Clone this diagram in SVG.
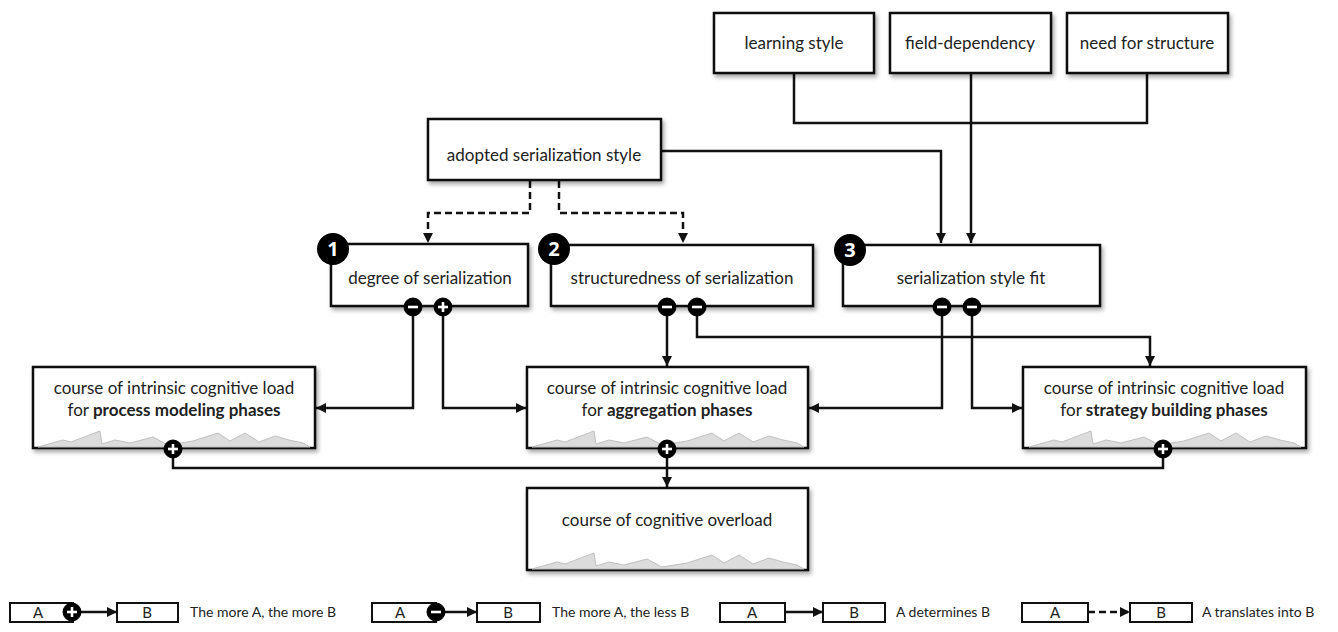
<svg xmlns="http://www.w3.org/2000/svg" xmlns:xlink="http://www.w3.org/1999/xlink" width="1338" height="632" viewBox="0 0 1338 632">
<style>
.box{fill:#fff;stroke:#111;stroke-width:2.5;filter:url(#sh)}
.t{font-family:Lato,"Open Sans","Liberation Sans",sans-serif;font-size:17px;fill:#222;text-anchor:middle}
.b{font-weight:bold}
.ln{fill:none;stroke:#111;stroke-width:2.5}
.ds{stroke-dasharray:7,4}
.num{fill:#000}
.nt{font-family:"Open Sans","Liberation Sans",sans-serif;font-size:20px;font-weight:bold;fill:#fff;text-anchor:middle}
.pm{fill:#000;stroke:#000;stroke-width:1}
.sg{stroke:#fff;stroke-width:2.6;fill:none}
.spark{fill:#dcdcdc;stroke:#c0c0c0;stroke-width:1}
.lg{font-family:Lato,"Open Sans","Liberation Sans",sans-serif;font-size:14px;fill:#222}
.lgb{fill:#fff;stroke:#111;stroke-width:2}
.lgt{font-family:Lato,"Open Sans","Liberation Sans",sans-serif;font-size:15px;fill:#222;text-anchor:middle}
</style>
<defs>
<filter id="sh" x="-10%" y="-20%" width="130%" height="160%">
<feDropShadow dx="2" dy="3" stdDeviation="2" flood-color="#000" flood-opacity="0.35"/>
</filter>
<marker id="ar" viewBox="0 0 10 10" refX="10" refY="5" markerWidth="10" markerHeight="10" markerUnits="userSpaceOnUse" orient="auto">
<path d="M0,0 L10,5 L0,10 z" fill="#111"/>
</marker>
<polygon id="spk" class="spark" points="5,80 30,73 38,75 67,64 69,77 82,73 97,76 120,70 135,78 160,74 185,66 197,74 212,66 226,75 242,69 256,73 270,76 277,80"/>
</defs>

<g id="connectors">
<polyline class="ln" points="794,73 794,123 1147,123 1147,73"/>
<polyline class="ln" points="971,73 971,243" marker-end="url(#ar)"/>
<polyline class="ln" points="661,151 941,151 941,243" marker-end="url(#ar)"/>
<polyline class="ln ds" points="530,181 530,213 428,213 428,243" marker-end="url(#ar)"/>
<polyline class="ln ds" points="559,181 559,213 683,213 683,243" marker-end="url(#ar)"/>
<polyline class="ln" points="413,306 413,408 316,408" marker-end="url(#ar)"/>
<polyline class="ln" points="443,306 443,408 526,408" marker-end="url(#ar)"/>
<polyline class="ln" points="667,307 667,366" marker-end="url(#ar)"/>
<polyline class="ln" points="697,307 697,337 1150,337 1150,366" marker-end="url(#ar)"/>
<polyline class="ln" points="942,306 942,408 809,408" marker-end="url(#ar)"/>
<polyline class="ln" points="972,306 972,408 1022,408" marker-end="url(#ar)"/>
<polyline class="ln" points="173,449 173,468 1163,468 1163,449"/>
<polyline class="ln" points="667,449 667,487" marker-end="url(#ar)"/>
</g>

<g id="learning-style">
<rect class="box" x="714" y="13" width="160" height="60"/>
<text class="t" x="794" y="49">learning style</text>
</g>
<g id="field-dependency">
<rect class="box" x="890" y="13" width="161" height="60"/>
<text class="t" x="970" y="49">field-dependency</text>
</g>
<g id="need-for-structure">
<rect class="box" x="1067" y="13" width="161" height="60"/>
<text class="t" x="1147" y="49">need for structure</text>
</g>
<g id="adopted-serialization-style">
<rect class="box" x="428" y="119" width="233" height="61"/>
<text class="t" x="544" y="161">adopted serialization style</text>
</g>

<g id="degree-of-serialization">
<rect class="box" x="331" y="244" width="197" height="62"/>
<text class="t" x="430" y="284">degree of serialization</text>
<circle class="num" cx="333" cy="249" r="16"/>
<text class="nt" x="333" y="256">1</text>
<circle class="pm" cx="413" cy="307" r="9"/>
<line class="sg" x1="408" y1="307" x2="418" y2="307"/>
<circle class="pm" cx="443" cy="307" r="9"/>
<line class="sg" x1="438" y1="307" x2="448" y2="307"/>
<line class="sg" x1="443" y1="302" x2="443" y2="312"/>
</g>

<g id="structuredness-of-serialization">
<rect class="box" x="551" y="245" width="262" height="61"/>
<text class="t" x="682" y="284">structuredness of serialization</text>
<circle class="num" cx="554" cy="249" r="16"/>
<text class="nt" x="554" y="256">2</text>
<circle class="pm" cx="667" cy="307" r="9"/>
<line class="sg" x1="662" y1="307" x2="672" y2="307"/>
<circle class="pm" cx="697" cy="307" r="9"/>
<line class="sg" x1="692" y1="307" x2="702" y2="307"/>
</g>

<g id="serialization-style-fit">
<rect class="box" x="843" y="245" width="257" height="61"/>
<text class="t" x="971" y="284">serialization style fit</text>
<circle class="num" cx="850" cy="250" r="16"/>
<text class="nt" x="850" y="257">3</text>
<circle class="pm" cx="942" cy="307" r="9"/>
<line class="sg" x1="937" y1="307" x2="947" y2="307"/>
<circle class="pm" cx="972" cy="307" r="9"/>
<line class="sg" x1="967" y1="307" x2="977" y2="307"/>
</g>

<g id="process-modeling-load">
<rect class="box" x="33" y="367" width="282" height="81"/>
<use href="#spk" x="33" y="367"/>
<text class="t" x="174" y="394">course of intrinsic cognitive load</text>
<text class="t" x="174" y="416">for <tspan class="b">process modeling phases</tspan></text>
<circle class="pm" cx="173" cy="449" r="9"/>
<line class="sg" x1="168" y1="449" x2="178" y2="449"/>
<line class="sg" x1="173" y1="444" x2="173" y2="454"/>
</g>

<g id="aggregation-load">
<rect class="box" x="527" y="367" width="281" height="81"/>
<use href="#spk" x="527" y="367"/>
<text class="t" x="667" y="394">course of intrinsic cognitive load</text>
<text class="t" x="667" y="416">for <tspan class="b">aggregation phases</tspan></text>
<circle class="pm" cx="667" cy="449" r="9"/>
<line class="sg" x1="662" y1="449" x2="672" y2="449"/>
<line class="sg" x1="667" y1="444" x2="667" y2="454"/>
</g>

<g id="strategy-building-load">
<rect class="box" x="1023" y="367" width="283" height="81"/>
<use href="#spk" x="1024" y="367"/>
<text class="t" x="1164" y="394">course of intrinsic cognitive load</text>
<text class="t" x="1164" y="416">for <tspan class="b">strategy building phases</tspan></text>
<circle class="pm" cx="1163" cy="449" r="9"/>
<line class="sg" x1="1158" y1="449" x2="1168" y2="449"/>
<line class="sg" x1="1163" y1="444" x2="1163" y2="454"/>
</g>

<g id="cognitive-overload">
<rect class="box" x="527" y="488" width="281" height="82"/>
<use href="#spk" x="527" y="489"/>
<text class="t" x="667" y="526">course of cognitive overload</text>
</g>

<g id="legend">
<rect class="lgb" x="10" y="603" width="63" height="19"/>
<text class="lgt" x="38" y="618">A</text>
<line class="ln" x1="73" y1="612" x2="117" y2="612" marker-end="url(#ar)"/>
<circle class="pm" cx="72" cy="612" r="9"/>
<line class="sg" x1="67" y1="612" x2="77" y2="612"/>
<line class="sg" x1="72" y1="607" x2="72" y2="617"/>
<rect class="lgb" x="117" y="603" width="61" height="19"/>
<text class="lgt" x="147" y="618">B</text>
<text class="lg" x="190" y="617">The more A, the more B</text>

<rect class="lgb" x="372" y="603" width="64" height="19"/>
<text class="lgt" x="400" y="618">A</text>
<line class="ln" x1="436" y1="612" x2="477" y2="612" marker-end="url(#ar)"/>
<circle class="pm" cx="436" cy="612" r="9"/>
<line class="sg" x1="431" y1="612" x2="441" y2="612"/>
<rect class="lgb" x="477" y="603" width="63" height="19"/>
<text class="lgt" x="508" y="618">B</text>
<text class="lg" x="552" y="617">The more A, the less B</text>

<rect class="lgb" x="720" y="603" width="65" height="19"/>
<text class="lgt" x="752" y="618">A</text>
<line class="ln" x1="785" y1="612" x2="823" y2="612" marker-end="url(#ar)"/>
<rect class="lgb" x="823" y="603" width="62" height="19"/>
<text class="lgt" x="854" y="618">B</text>
<text class="lg" x="896" y="617">A determines B</text>

<rect class="lgb" x="1022" y="603" width="66" height="19"/>
<text class="lgt" x="1055" y="618">A</text>
<line class="ln ds" x1="1088" y1="612" x2="1130" y2="612" marker-end="url(#ar)"/>
<rect class="lgb" x="1130" y="603" width="62" height="19"/>
<text class="lgt" x="1161" y="618">B</text>
<text class="lg" x="1202" y="617">A translates into B</text>
</g>
</svg>
